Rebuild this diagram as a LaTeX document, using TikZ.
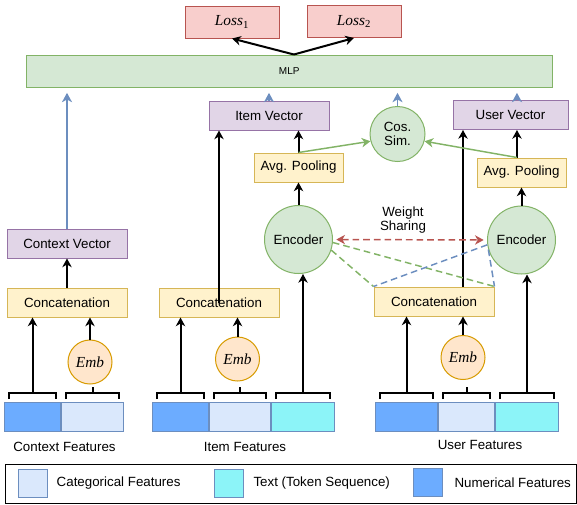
\documentclass[tikz,border=0pt]{standalone}
\usepackage{fontspec}
\setmainfont{Liberation Sans}
\newfontfamily\formfont{Liberation Serif}
\usepackage{amsmath}
\usetikzlibrary{positioning, arrows.meta}

\definecolor{lossfill}{HTML}{F8CECC}
\definecolor{lossline}{HTML}{B85450}
\definecolor{mlpfill}{HTML}{D5E8D4}
\definecolor{mlpline}{HTML}{82B366}
\definecolor{vecfill}{HTML}{E1D5E7}
\definecolor{vecline}{HTML}{9673A6}
\definecolor{opfill}{HTML}{FFF2CC}
\definecolor{opline}{HTML}{D6B656}
\definecolor{embfill}{HTML}{FFE6CC}
\definecolor{embline}{HTML}{D79B00}
\definecolor{numfill}{HTML}{6CACFF}
\definecolor{catfill}{HTML}{DAE8FC}
\definecolor{txtfill}{HTML}{8CF4F8}
\definecolor{featline}{HTML}{6C8EBF}

\newcommand{\lossname}[1]{\textit{Loss}\textsubscript{#1}}

\tikzset{
	unitbox/.style={draw, line width=0.75pt, inner sep=1pt},
	loss/.style={unitbox, draw=lossline, fill=lossfill, minimum width=70.5pt, minimum height=24pt, font=\formfont\fontsize{11.5}{13}\selectfont},
	mlpbox/.style={unitbox, draw=mlpline, fill=mlpfill, minimum width=394.5pt, minimum height=24pt, font=\fontsize{7.5}{9}\selectfont},
	vec/.style={unitbox, draw=vecline, fill=vecfill, minimum width=90pt, minimum height=21.75pt},
	op/.style={unitbox, draw=opline, fill=opfill, minimum width=90pt, minimum height=21.75pt},
	pool/.style={op, minimum width=66.75pt},
	enc/.style={circle, draw=mlpline, fill=mlpfill, line width=0.75pt, minimum size=51pt, inner sep=0pt},
	sim/.style={enc, minimum size=41.25pt, align=center, font=\fontsize{10}{11}\selectfont},
	emb/.style={circle, draw=embline, fill=embfill, line width=0.75pt, minimum size=33pt, inner sep=0pt, font=\formfont\itshape\fontsize{11.5}{13}\selectfont},
	feat/.style={draw=featline, line width=0.75pt, minimum height=21.75pt, inner sep=0pt},
	num/.style={feat, fill=numfill},
	cat/.style={feat, fill=catfill},
	txt/.style={feat, fill=txtfill},
	tip/.tip={Stealth[length=6.5pt, width=7pt, inset=2pt]},
	arr/.style={-tip, line width=1.5pt},
	bluearr/.style={-{Stealth[length=7pt, width=7.5pt, inset=2pt]}, draw=featline, line width=1.1pt, shorten >=4pt},
	greenarr/.style={arr, draw=mlpline, line width=1.1pt},
	share/.style={dash pattern=on 5pt off 3pt, line width=1.1pt},
	featbrace/.style={line width=1.5pt},
}

\begin{document}
\begin{tikzpicture}[x=0.75pt, y=-0.75pt, font=\fontsize{10}{12}\selectfont]
	\useasboundingbox (0,0) rectangle (577,504);

	% Losses and MLP
	\node[loss] (loss1) at (232,22) {\lossname{1}};
	\node[loss] (loss2) at (354,21.5) {\lossname{2}};
	\node[mlpbox] (mlp) at (289.25,71) {MLP};

	% Vectors
	\node[vec] (itemvec) at (269,115.5) {Item Vector};
	\node[vec, minimum width=86.25pt] (uservec) at (510.5,115) {User Vector};
	\node[vec] (ctxvec) at (67,243.5) {Context Vector};
	\node[sim] (cossim) at (397.5,134) {Cos.\\Sim.};

	% Pooling and encoders
	\node[pool] (pool1) at (298.5,167.5) {Avg. Pooling};
	\node[pool] (pool2) at (521.5,172.5) {Avg. Pooling};
	\node[enc] (enc1) at (298.5,239.5) {Encoder};
	\node[enc] (enc2) at (521.5,240) {Encoder};
	\node[align=center, font=\fontsize{10}{11}\selectfont] (sharelbl) at (403,220) {Weight\\Sharing};

	% Concatenation
	\node[op] (concat1) at (67,302.5) {Concatenation};
	\node[op] (concat2) at (219,302.5) {Concatenation};
	\node[op] (concat3) at (434,301.5) {Concatenation};

	% Embeddings
	\node[emb] (emb1) at (90,362) {Emb};
	\node[emb] (emb2) at (237.5,359) {Emb};
	\node[emb] (emb3) at (463,357.5) {Emb};

	% Feature blocks
	\node[num, minimum width=42pt, anchor=north west] (ctxnum) at (4,402) {};
	\node[cat, minimum width=46.5pt, right=0pt of ctxnum] (ctxcat) {};
	\node[num, minimum width=42pt, anchor=north west] (itemnum) at (152,402) {};
	\node[cat, minimum width=45.75pt, right=0pt of itemnum] (itemcat) {};
	\node[txt, minimum width=47.25pt, right=0pt of itemcat] (itemtxt) {};
	\node[num, minimum width=46.5pt, anchor=north west] (usernum) at (375,402) {};
	\node[cat, minimum width=42pt, right=0pt of usernum] (usercat) {};
	\node[txt, minimum width=47.25pt, right=0pt of usercat] (usertxt) {};

	\node (ctxlbl) at (64.5,447) {Context Features};
	\node (itemlbl) at (245,447) {Item Features};
	\node (userlbl) at (480,445) {User Features};

	% Legend
	\node[draw, line width=0.75pt, minimum width=428.6pt, minimum height=29.25pt] (legend) at (290.75,483.5) {};
	\node[cat, minimum width=21.75pt, minimum height=21pt] (catkey) at (32.5,483) {};
	\node[right=3.4pt of catkey] (catlbl) {Categorical Features};
	\node[txt, minimum width=21.75pt, minimum height=21pt] (txtkey) at (228.5,483) {};
	\node[right=4pt of txtkey] (txtlbl) {Text (Token Sequence)};
	\node[num, minimum width=21.75pt, minimum height=21pt] (numkey) at (427.5,482.5) {};
	\node[right=5.5pt of numkey] (numlbl) {Numerical Features};

	% Arrows
	% MLP to the losses
	\coordinate (mlptop) at ([xshift=3.5pt]mlp.north);
	\draw[arr] (mlptop) -- (loss1.south);
	\draw[arr] (mlptop) -- (loss2.south);

	% into the MLP
	\coordinate (pooltop) at ([xshift=-3.4pt]pool2.north);
	\draw[bluearr] (ctxvec.north) -- (ctxvec.north |- mlp.south);
	\draw[bluearr] (itemvec.north) -- (itemvec.north |- mlp.south);
	\draw[bluearr] (cossim.north) -- (cossim.north |- mlp.south);
	\draw[bluearr] (pooltop |- uservec.north) -- (pooltop |- mlp.south);

	% item tower
	\draw[arr] (concat2.center) -- (concat2.center |- itemvec.south);
	\draw[arr] (enc1.north) -- (pool1.south);
	\draw[arr] (pool1.north) -- (pool1.north |- itemvec.south);
	\draw[greenarr] (pool1.north) -- (cossim.195);

	% user tower
	\coordinate (concattop) at ([xshift=21.75pt]concat3.north);
	\draw[arr] (concattop) -- (concattop |- uservec.south);
	\draw[arr] (enc2.north) -- (pool2.south);
	\draw[arr] (pooltop) -- (pooltop |- uservec.south);
	\draw[greenarr] (pooltop) -- (cossim.345);

	% context tower
	\draw[arr] (concat1.north) -- (ctxvec.south);

	% weight sharing
	\draw[share, draw=lossline, tip-tip, shorten <=2.5pt, shorten >=2.5pt] (enc1.east) -- (enc2.west);
	\draw[share, draw=mlpline] (enc1.-5) -- (concat3.north east);
	\draw[share, draw=mlpline] (enc1.-18) -- (concat3.north west);
	\draw[share, draw=featline] (enc2.188) -- (concat3.north west);
	\draw[share, draw=featline] (enc2.196) -- (concat3.north east);

	% feature brackets
	\foreach \blk in {ctxnum, ctxcat, itemnum, itemcat, itemtxt, usernum, usercat, usertxt}
		\draw[featbrace] ([shift={(5,-3)}]\blk.north west) -- ++(0,-6) -| ([shift={(-5,-3)}]\blk.north east);
	\foreach \blk in {ctxcat, itemcat, usercat}
		\draw[featbrace] ([yshift=6.75pt]\blk.north) -- ++(0,-6);

	% features to concatenation and encoders
	\draw[arr] ([yshift=6.75pt]ctxnum.north) -- (ctxnum.north |- concat1.south);
	\draw[arr] (emb1.north) -- (emb1.north |- concat1.south);
	\draw[arr] ([yshift=6.75pt]itemnum.north) -- (itemnum.north |- concat2.south);
	\draw[arr] (emb2.north) -- (emb2.north |- concat2.south);
	\draw[arr] ([yshift=6.75pt]itemtxt.north) -- (itemtxt.north |- enc1.south);
	\draw[arr] ([yshift=6.75pt]usernum.north) -- (usernum.north |- concat3.south);
	\draw[arr] (emb3.north) -- (emb3.north |- concat3.south);
	\draw[arr] ([yshift=6.75pt]usertxt.north) -- (usertxt.north |- enc2.south);
\end{tikzpicture}
\end{document}
